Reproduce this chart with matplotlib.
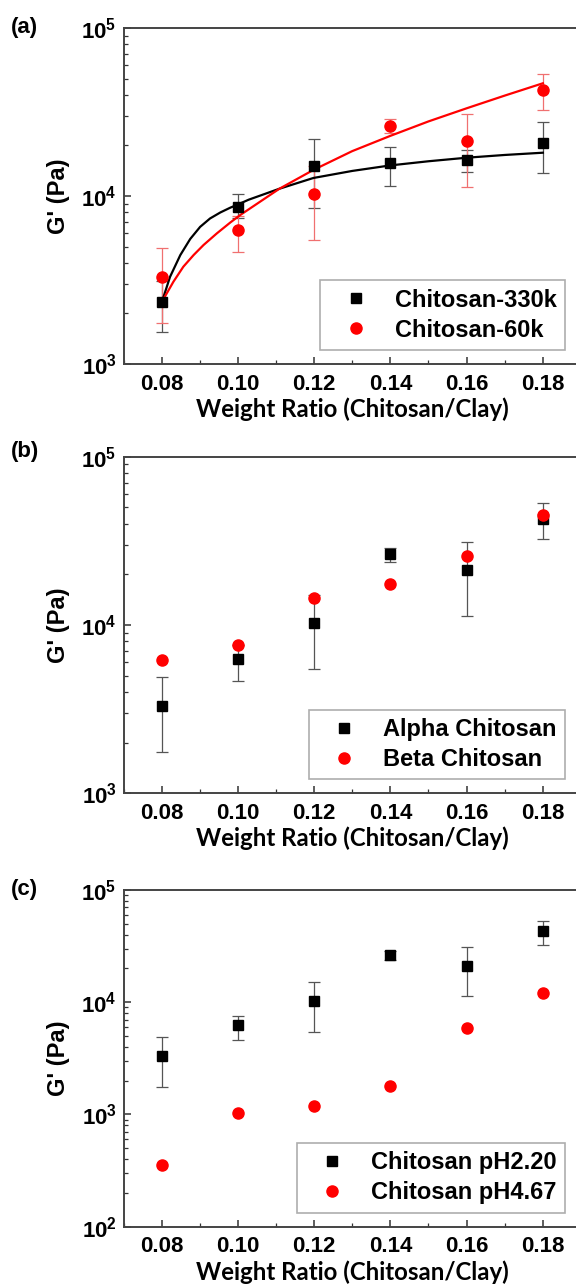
import numpy as np
import matplotlib
matplotlib.use('Agg')
import matplotlib.pyplot as plt
from matplotlib.ticker import FuncFormatter, LogLocator, MultipleLocator

plt.rcParams['font.family'] = ['Liberation Sans', 'DejaVu Sans']
plt.rcParams['font.weight'] = 'bold'
plt.rcParams['mathtext.fontset'] = 'custom'
plt.rcParams['mathtext.bf'] = 'Liberation Sans:bold'
plt.rcParams['mathtext.rm'] = 'Liberation Sans:bold'

# weight ratio (chitosan/clay)
ratio = [0.08, 0.10, 0.12, 0.14, 0.16, 0.18]

# (a) molecular weight
g_330k = [2330, 8630, 15140, 15650, 16450, 20590]
g_330k_lo = [1560, 7370, 8520, 11510, 13900, 13650]
g_330k_hi = [3100, 10240, 21750, 19660, 18800, 27460]
g_60k = [3300, 6270, 10300, 26250, 21150, 42700]
g_60k_lo = [1750, 4650, 5450, 23650, 11300, 32600]
g_60k_hi = [4900, 7600, 15100, 28650, 30950, 53150]

# fitted curves
fit330_x = [0.0801, 0.0822, 0.0849, 0.0875, 0.0901, 0.0927, 0.0954, 0.098, 0.1, 0.1028,
            0.1109, 0.1198, 0.13, 0.1399, 0.15, 0.16, 0.17, 0.18]
fit330_y = [2350, 3300, 4450, 5550, 6550, 7350, 7980, 8520, 8900, 9500,
            11050, 12800, 14100, 15200, 16100, 16900, 17550, 18100]
fit60_x = [0.0801, 0.0831, 0.0857, 0.0884, 0.091, 0.0945, 0.098, 0.1006, 0.1109, 0.1198,
           0.13, 0.1399, 0.15, 0.16, 0.17, 0.18]
fit60_y = [2350, 3090, 3795, 4455, 5110, 5995, 6950, 7700, 11050, 14290,
           18500, 22760, 27800, 33270, 39600, 46880]

# (b) alpha / beta (alpha = chitosan-60k data)
g_beta = [6170, 7610, 14530, 17580, 25590, 45200]

# (c) pH (pH2.20 = chitosan-60k data)
g_ph467 = [355, 1037, 1197, 1806, 5900, 12030]

W, H = 576, 1288
fig = plt.figure(figsize=(W / 100, H / 100), dpi=100)

def make_ax(top, bottom, ymin):
    left, right = 123.5, 581
    ax = fig.add_axes([left / W, 1 - bottom / H, (right - left) / W, (bottom - top) / H])
    ax.set_yscale('log')
    ax.set_xlim(0.07, 0.19)
    ax.set_ylim(ymin, 1e5)
    ax.xaxis.set_major_locator(MultipleLocator(0.02))
    ax.xaxis.set_minor_locator(MultipleLocator(0.01))
    ax.xaxis.set_major_formatter(FuncFormatter(lambda v, p: '%.2f' % v))
    ax.yaxis.set_major_locator(LogLocator(base=10))
    ax.yaxis.set_minor_locator(LogLocator(base=10, subs=np.arange(2, 10)))
    ax.yaxis.set_major_formatter(FuncFormatter(lambda v, p: r'$\mathbf{10^{%d}}$' % round(np.log10(v))))
    ax.tick_params(which='both', direction='in', colors='#333333', labelcolor='black')
    ax.tick_params(which='major', length=5, width=1.1, labelsize=16)
    ax.tick_params(which='minor', length=3, width=0.9)
    ax.tick_params(axis='x', pad=7)
    ax.tick_params(axis='y', pad=5)
    for s in ax.spines.values():
        s.set_color('#444444')
        s.set_linewidth(1.4)
    ax.set_xlabel('Weight Ratio (Chitosan/Clay)', family=['Lato', 'DejaVu Sans'],
                  fontsize=17.3, fontweight='bold', labelpad=2)
    ax.set_ylabel("G' (Pa)", fontsize=17, fontweight='bold', labelpad=8)
    return ax

def errs(v, lo, hi):
    v = np.array(v)
    return [v - np.array(lo), np.array(hi) - v]

def legend(ax):
    leg = ax.legend(loc='lower right', bbox_to_anchor=(0.965, 0.042), borderaxespad=0,
                    fontsize=17, frameon=True, fancybox=False, handletextpad=0.5,
                    borderpad=0.35, labelspacing=0.3, handlelength=2.3)
    leg.get_frame().set_edgecolor('#999999')
    leg.get_frame().set_linewidth(1.2)

# (a)
ax = make_ax(28, 364, 1e3)
ax.plot(fit330_x, fit330_y, color='black', lw=1.6, zorder=2)
ax.plot(fit60_x, fit60_y, color='red', lw=1.6, zorder=2)
ax.errorbar(ratio, g_330k, yerr=errs(g_330k, g_330k_lo, g_330k_hi), fmt='none',
            ecolor='#555555', elinewidth=0.9, capsize=4, capthick=0.9, zorder=1)
ax.errorbar(ratio, g_60k, yerr=errs(g_60k, g_60k_lo, g_60k_hi), fmt='none',
            ecolor='#f07070', elinewidth=0.9, capsize=4, capthick=0.9, zorder=1)
ax.plot(ratio, g_330k, 's', color='black', ms=7, label='Chitosan-330k', zorder=3)
ax.plot(ratio, g_60k, 'o', color='red', ms=8, label='Chitosan-60k', zorder=3)
legend(ax)

# (b)
ax = make_ax(456.7, 793.3, 1e3)
ax.errorbar(ratio, g_60k, yerr=errs(g_60k, g_60k_lo, g_60k_hi), fmt='none',
            ecolor='#555555', elinewidth=0.9, capsize=4, capthick=0.9, zorder=1)
ax.plot(ratio, g_60k, 's', color='black', ms=7, label='Alpha Chitosan', zorder=3)
ax.plot(ratio, g_beta, 'o', color='red', ms=8, label='Beta Chitosan', zorder=3)
legend(ax)

# (c)
ax = make_ax(890, 1226.7, 1e2)
ax.errorbar(ratio, g_60k, yerr=errs(g_60k, g_60k_lo, g_60k_hi), fmt='none',
            ecolor='#555555', elinewidth=0.9, capsize=4, capthick=0.9, zorder=1)
ax.plot(ratio, g_60k, 's', color='black', ms=7, label='Chitosan pH2.20', zorder=3)
ax.plot(ratio, g_ph467, 'o', color='red', ms=8, label='Chitosan pH4.67', zorder=3)
legend(ax)

for lab, yc in [('(a)', 27), ('(b)', 451.7), ('(c)', 890)]:
    fig.text(11 / W, 1 - yc / H, lab, fontsize=16, fontweight='bold', va='center', ha='left')

fig.savefig('out.png', dpi=100)
